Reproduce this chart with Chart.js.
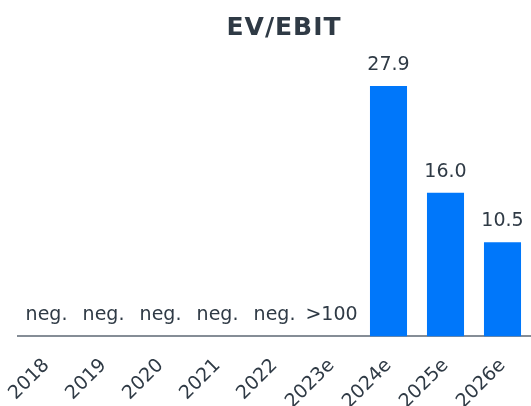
<!DOCTYPE html>
<html lang="en">
<head>
    <meta charset="UTF-8">
    <title>EV/EBIT</title>
    <script src="https://cdn.jsdelivr.net/npm/chart.js"></script>
    <style>
        html, body { margin: 0; padding: 0; background: #fff; overflow: hidden; }
        /* a little taller than the window: the empty strip below the labels is cut off */
        #wrap { width: 531px; height: 423px; }
    </style>
</head>
<body>
    <div id="wrap"><canvas id="Chart1"></canvas></div>

    <script>
        const years = ['2018', '2019', '2020', '2021', '2022', '2023e', '2024e', '2025e', '2026e'];
        const evEbit = [0, 0, 0, 0, 0, 0, 27.9, 16.0, 10.5];
        const valueLabels = ['neg.', 'neg.', 'neg.', 'neg.', 'neg.', '>100', '27.9', '16.0', '10.5'];

        const textColor = '#2f3a45';

        // value labels above bars + title
        const labelPlugin = {
            id: 'labels',
            afterDatasetsDraw(chart) {
                const ctx = chart.ctx;
                const meta = chart.getDatasetMeta(0);
                ctx.save();
                ctx.fillStyle = textColor;
                ctx.font = '19px "DejaVu Sans"';
                ctx.textAlign = 'center';
                ctx.textBaseline = 'alphabetic';
                meta.data.forEach((bar, i) => {
                    ctx.fillText(valueLabels[i], bar.x, bar.y - 16);
                });
                ctx.font = 'bold 25px "DejaVu Sans"';
                ctx.letterSpacing = '1px';
                ctx.fillText('EV/EBIT', 284, 35);
                ctx.restore();
            }
        };

        const ctx2 = document.getElementById('Chart1').getContext('2d');
        const chart = new Chart(ctx2, {
            type: 'bar',
            data: {
                labels: years,
                datasets: [{
                    label: 'EV/EBIT',
                    data: evEbit,
                    backgroundColor: '#0077fa',
                    categoryPercentage: 1,
                    barPercentage: 0.65
                }]
            },
            options: {
                responsive: true,
                maintainAspectRatio: false,
                animation: false,
                layout: {
                    padding: { top: 60, left: 18, right: 0, bottom: 0 }
                },
                plugins: {
                    legend: { display: false },
                    title: { display: false },
                    tooltip: { enabled: false }
                },
                scales: {
                    x: {
                        grid: { display: false },
                        border: { display: true, color: '#858d96', width: 2 },
                        ticks: {
                            color: textColor,
                            font: { family: 'DejaVu Sans', size: 19 },
                            minRotation: 45,
                            maxRotation: 45,
                            padding: 10
                        }
                    },
                    y: {
                        display: false,
                        min: 0,
                        max: 30.8
                    }
                }
            },
            plugins: [labelPlugin]
        });
    </script>
</body>
</html>
